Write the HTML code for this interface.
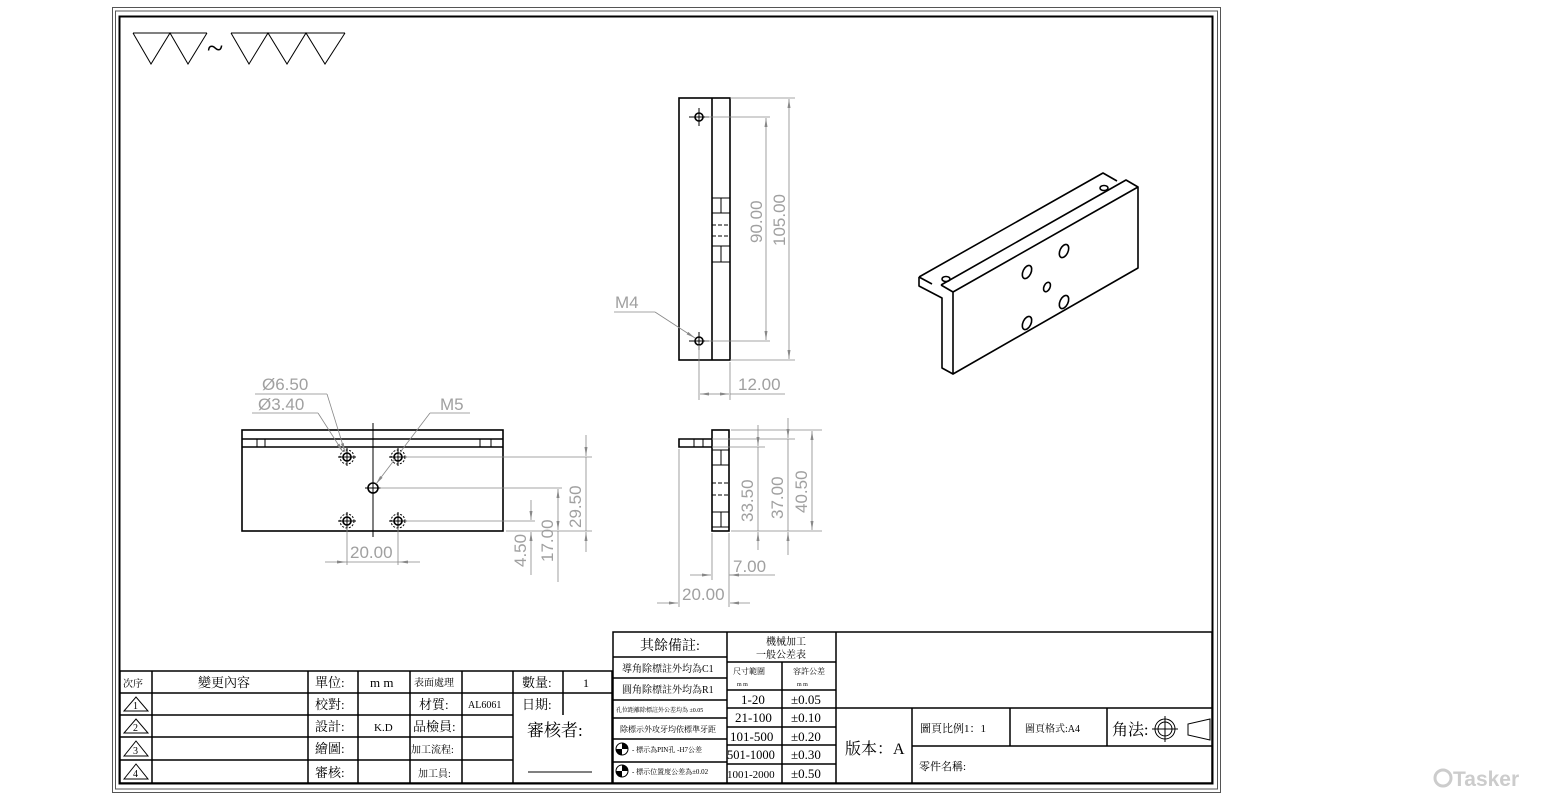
<!DOCTYPE html>
<html><head><meta charset="utf-8">
<style>
html,body{margin:0;padding:0;background:#fff;}
svg{display:block;}
.t{font-family:"Liberation Serif","Noto Serif CJK SC","Noto Sans CJK TC",serif;fill:#000;}
.c{font-family:"Liberation Sans","Noto Sans CJK TC",sans-serif;fill:#000;}
.d{font-family:"Liberation Sans",sans-serif;fill:#a0a0a0;font-size:17px;}
</style></head><body>
<svg width="1542" height="800" viewBox="0 0 1542 800" xmlns="http://www.w3.org/2000/svg">
<defs>
<marker id="a" markerWidth="10" markerHeight="6" refX="9" refY="3" orient="auto" markerUnits="userSpaceOnUse"><path d="M0,1.5 L9,3 L0,4.5 Z" fill="#888"/></marker>
</defs>
<rect x="112.5" y="7.5" width="1108" height="785" fill="none" stroke="#555" stroke-width="1"/>
<rect x="115.5" y="11" width="1102" height="778" fill="none" stroke="#555" stroke-width="1"/>
<rect x="119.5" y="16.5" width="1093" height="767" fill="none" stroke="#000" stroke-width="2"/>

<g fill="none" stroke="#000" stroke-width="1">
<path d="M133,33 L207,33 M133,33 L151,64 L170,33 L188,64 L207,33"/>
<path d="M231,33 L345,33 M231,33 L249,64 L268,33 L287,64 L306,33 L325,64 L345,33"/>
</g>
<text x="207" y="58" class="t" font-size="30">~</text>

<g fill="none" stroke="#000" stroke-width="1.6">
<rect x="679" y="98" width="51" height="262"/>
<line x1="712" y1="98" x2="712" y2="360"/>
<circle cx="699" cy="117" r="4"/><circle cx="699" cy="341" r="4"/>
</g>
<g fill="none" stroke="#000" stroke-width="1">
<line x1="689" y1="117" x2="709" y2="117"/><line x1="699" y1="108" x2="699" y2="126"/>
<line x1="689" y1="341" x2="709" y2="341"/><line x1="699" y1="332" x2="699" y2="350"/>
<path d="M712,198 H721 V213 H730 M721,198 H730 M712,213 H721"/>
<path d="M712,246 H721 V262 H730 M721,246 H730 M712,262 H721"/>
<path d="M712,225 H730 M712,236 H730" stroke-dasharray="4,2"/>
</g>
<g stroke="#888" stroke-width="0.8" fill="none">
<line x1="705" y1="117" x2="770" y2="117"/><line x1="705" y1="341" x2="770" y2="341"/>
<line x1="730" y1="98" x2="795" y2="98"/><line x1="730" y1="360" x2="795" y2="360"/>
<line x1="766" y1="230" x2="766" y2="118" marker-end="url(#a)"/><line x1="766" y1="230" x2="766" y2="340" marker-end="url(#a)"/>
<line x1="789" y1="230" x2="789" y2="99" marker-end="url(#a)"/><line x1="789" y1="230" x2="789" y2="359" marker-end="url(#a)"/>
<line x1="699" y1="345" x2="699" y2="400"/><line x1="730" y1="362" x2="730" y2="400"/>
<line x1="714" y1="394" x2="700" y2="394" marker-end="url(#a)"/><line x1="714" y1="394" x2="729" y2="394" marker-end="url(#a)"/>
<line x1="730" y1="394" x2="785" y2="394"/>
<line x1="614" y1="312" x2="655" y2="312"/><line x1="655" y1="312" x2="695" y2="338" marker-end="url(#a)"/>
</g>
<text class="d" transform="translate(762,243) rotate(-90)">90.00</text>
<text class="d" transform="translate(785,246) rotate(-90)">105.00</text>
<text class="d" x="738" y="390">12.00</text>
<text class="d" x="615" y="308">M4</text>

<g fill="none" stroke="#000" stroke-width="1.6">
<rect x="242" y="430" width="261" height="101"/>
<line x1="242" y1="439" x2="503" y2="439"/><line x1="242" y1="447" x2="503" y2="447"/>
<circle cx="347" cy="457" r="4"/><circle cx="398" cy="457" r="4"/>
<circle cx="347" cy="521" r="4"/><circle cx="398" cy="521" r="4"/>
<circle cx="373" cy="488" r="5"/>
</g>
<g fill="none" stroke="#000" stroke-width="1">
<path d="M257,439V447M265,439V447M480,439V447M491,439V447"/>
<line x1="373" y1="423" x2="373" y2="537"/><line x1="365" y1="488" x2="381" y2="488"/>
<g stroke-dasharray="2,1.5"><circle cx="347" cy="457" r="7"/><circle cx="398" cy="457" r="7"/><circle cx="347" cy="521" r="7"/><circle cx="398" cy="521" r="7"/></g>
<path d="M338,457H356M347,448V466M389,457H407M398,448V466M338,521H356M347,512V530M389,521H407M398,512V530"/>
</g>
<g stroke="#888" stroke-width="0.8" fill="none">
<line x1="255" y1="394" x2="327" y2="394"/><line x1="327" y1="394" x2="345" y2="452" marker-end="url(#a)"/>
<line x1="252" y1="413" x2="318" y2="413"/><line x1="318" y1="413" x2="343" y2="452" marker-end="url(#a)"/>
<line x1="430" y1="413" x2="470" y2="413"/><line x1="430" y1="413" x2="376" y2="484" marker-end="url(#a)"/>
<line x1="347" y1="528" x2="347" y2="565"/><line x1="398" y1="528" x2="398" y2="565"/>
<line x1="325" y1="562" x2="346" y2="562" marker-end="url(#a)"/><line x1="420" y1="562" x2="399" y2="562" marker-end="url(#a)"/>
<line x1="346" y1="562" x2="399" y2="562"/>
<line x1="405" y1="457" x2="592" y2="457"/><line x1="380" y1="488" x2="562" y2="488"/>
<line x1="405" y1="521" x2="535" y2="521"/><line x1="506" y1="531" x2="592" y2="531"/>
<line x1="586" y1="435" x2="586" y2="456" marker-end="url(#a)"/><line x1="586" y1="552" x2="586" y2="532" marker-end="url(#a)"/><line x1="586" y1="457" x2="586" y2="531"/>
<line x1="558" y1="510" x2="558" y2="489" marker-end="url(#a)"/><line x1="558" y1="510" x2="558" y2="530" marker-end="url(#a)"/><line x1="558" y1="531" x2="558" y2="582"/>
<line x1="531" y1="500" x2="531" y2="520" marker-end="url(#a)"/><line x1="531" y1="550" x2="531" y2="532" marker-end="url(#a)"/><line x1="531" y1="550" x2="531" y2="575"/>
</g>
<text class="d" x="262" y="390">Ø6.50</text>
<text class="d" x="258" y="410">Ø3.40</text>
<text class="d" x="440" y="410">M5</text>
<text class="d" x="350" y="558">20.00</text>
<text class="d" transform="translate(581,528) rotate(-90)">29.50</text>
<text class="d" transform="translate(553,562) rotate(-90)">17.00</text>
<text class="d" transform="translate(526,567) rotate(-90)">4.50</text>

<g fill="none" stroke="#000" stroke-width="1.6">
<rect x="712" y="430" width="17" height="101"/>
<path d="M712,439 H679 V447 H712"/>
</g>
<g fill="none" stroke="#000" stroke-width="1">
<path d="M694,439V447M703,439V447"/>
<path d="M729,450 H721 V465 H712 M721,450 H712 M729,465 H721"/>
<path d="M729,512 H721 V527 H712 M721,512 H712 M729,527 H721"/>
<path d="M712,483 H729 M712,495 H729" stroke-dasharray="4,2"/>
</g>
<g stroke="#888" stroke-width="0.8" fill="none">
<line x1="731" y1="430" x2="822" y2="430"/><line x1="712" y1="439" x2="795" y2="439"/><line x1="712" y1="447" x2="765" y2="447"/><line x1="731" y1="531" x2="822" y2="531"/>
<line x1="758" y1="425" x2="758" y2="446" marker-end="url(#a)"/><line x1="758" y1="550" x2="758" y2="532" marker-end="url(#a)"/><line x1="758" y1="447" x2="758" y2="531"/>
<line x1="788" y1="418" x2="788" y2="438" marker-end="url(#a)"/><line x1="788" y1="555" x2="788" y2="532" marker-end="url(#a)"/><line x1="788" y1="439" x2="788" y2="531"/>
<line x1="812" y1="480" x2="812" y2="431" marker-end="url(#a)"/><line x1="812" y1="480" x2="812" y2="530" marker-end="url(#a)"/>
<line x1="712" y1="533" x2="712" y2="580"/><line x1="729" y1="533" x2="729" y2="607"/><line x1="679" y1="449" x2="679" y2="607"/>
<line x1="690" y1="575" x2="711" y2="575" marker-end="url(#a)"/><line x1="750" y1="575" x2="730" y2="575" marker-end="url(#a)"/><line x1="729" y1="575" x2="775" y2="575"/>
<line x1="657" y1="603" x2="678" y2="603" marker-end="url(#a)"/><line x1="750" y1="603" x2="730" y2="603" marker-end="url(#a)"/>
</g>
<text class="d" transform="translate(753,522) rotate(-90)">33.50</text>
<text class="d" transform="translate(783,519) rotate(-90)">37.00</text>
<text class="d" transform="translate(807,513) rotate(-90)">40.50</text>
<text class="d" x="733" y="572">7.00</text>
<text class="d" x="682" y="600">20.00</text>

<g fill="none" stroke="#000" stroke-width="1.6" stroke-linejoin="round">
<path d="M919,277 L1103,173 L1117,181"/>
<path d="M919,277 L919,286 L942,298 L942,368 L953,374"/>
<path d="M919,277 L932,284"/>
<path d="M941,285 L1126,180 L1138,187"/>
<path d="M941,285 L953,292 L1138,187 L1138,268 L953,374 L953,292"/>
<ellipse cx="1027" cy="272" rx="4" ry="7" transform="rotate(25 1027 272)"/>
<ellipse cx="1064" cy="251" rx="4" ry="7" transform="rotate(25 1064 251)"/>
<ellipse cx="1047" cy="287" rx="3" ry="5" transform="rotate(25 1047 287)"/>
<ellipse cx="1064" cy="302" rx="4" ry="7" transform="rotate(25 1064 302)"/>
<ellipse cx="1027" cy="323" rx="4" ry="7" transform="rotate(25 1027 323)"/>
<ellipse cx="946" cy="279" rx="4" ry="2.5"/>
<ellipse cx="1104" cy="188" rx="4" ry="2.5"/>
</g>

<g fill="none" stroke="#000" stroke-width="1.5">
<rect x="120" y="671" width="492" height="112"/>
<path d="M120,693H612 M120,715H513 M120,737H513 M120,760H513"/>
<path d="M152,671V783 M308,671V783 M358,671V783 M410,671V783 M462,671V783 M513,671V783 M563,671V715"/>
<rect x="613" y="632" width="599" height="151"/>
<path d="M727,632V783 M782,662V783 M836,632V783"/>
<path d="M613,657H727 M613,678H727 M613,700H727 M613,718H727 M613,739H727 M613,762H727"/>
<path d="M727,662H836 M727,690H836 M727,708H836 M727,727H836 M727,745H836 M727,764H836"/>
<path d="M836,708H1212 M912,708V783 M912,746H1212 M1010,708V746 M1107,708V746"/>
</g>
<line x1="528" y1="772" x2="592" y2="772" stroke="#000" stroke-width="1"/>
<g class="t" font-size="12">
<text x="123" y="687" font-size="10">次序</text>
<text x="198" y="687" font-size="13">變更內容</text>
<text x="315" y="687" font-size="13">單位:</text>
<text x="370" y="687" font-size="13">m m</text>
<text x="414" y="686" font-size="10">表面處理</text>
<text x="522" y="687" font-size="13">數量:</text>
<text x="583" y="687">1</text>
<text x="315" y="709" font-size="13">校對:</text>
<text x="419" y="709" font-size="13">材質:</text>
<text x="468" y="708" font-size="10">AL6061</text>
<text x="522" y="709" font-size="13">日期:</text>
<text x="315" y="731" font-size="13">設計:</text>
<text x="374" y="731" font-size="11">K.D</text>
<text x="413" y="731" font-size="13">品檢員:</text>
<text x="527" y="736" font-size="17">審核者:</text>
<text x="315" y="753" font-size="13">繪圖:</text>
<text x="411" y="753" font-size="10">加工流程:</text>
<text x="315" y="777" font-size="13">審核:</text>
<text x="418" y="777" font-size="10">加工員:</text>
<text x="640" y="650" font-size="14">其餘備註:</text>
<text x="622" y="672" font-size="10">導角除標註外均為C1</text>
<text x="622" y="693" font-size="10">圓角除標註外均為R1</text>
<text x="616" y="712" font-size="6">孔位距離除標註外公差均為 ±0.05</text>
<text x="620" y="732" font-size="8">除標示外攻牙均依標準牙距</text>
<text x="632" y="752" font-size="7">- 標示為PIN孔 -H7公差</text>
<text x="632" y="774" font-size="7">- 標示位置度公差為±0.02</text>
<text x="766" y="645" font-size="10">機械加工</text>
<text x="756" y="658" font-size="10">一般公差表</text>
<text x="733" y="674" font-size="8">尺寸範圍</text>
<text x="793" y="674" font-size="8">容許公差</text>
<text x="737" y="686" font-size="6">m m</text>
<text x="797" y="686" font-size="6">m m</text>
<g font-size="13">
<text x="741" y="704">1-20</text><text x="791" y="704">±0.05</text>
<text x="735" y="722">21-100</text><text x="791" y="722">±0.10</text>
<text x="730" y="741">101-500</text><text x="791" y="741">±0.20</text>
<text x="727" y="759" font-size="12.5">501-1000</text><text x="791" y="759">±0.30</text>
<text x="727" y="778" font-size="11">1001-2000</text><text x="791" y="778">±0.50</text>
</g>
<text x="845" y="754" font-size="16">版本：A</text>
<text x="920" y="732" font-size="11">圖頁比例1：1</text>
<text x="1025" y="732" font-size="10">圖頁格式:A4</text>
<text x="1112" y="735" font-size="16">角法:</text>
<text x="919" y="770" font-size="11">零件名稱:</text>
</g>
<g>
<circle cx="622" cy="749" r="6" fill="#fff" stroke="#000"/><path d="M622,743 A6,6 0 0 1 628,749 L622,749Z M622,755 A6,6 0 0 1 616,749 L622,749Z" fill="#000"/>
<circle cx="622" cy="771" r="6" fill="#fff" stroke="#000"/><path d="M622,765 A6,6 0 0 1 628,771 L622,771Z M622,777 A6,6 0 0 1 616,771 L622,771Z" fill="#000"/>
</g>
<g fill="none" stroke="#000" stroke-width="1">
<circle cx="1165" cy="729" r="10"/><circle cx="1165" cy="729" r="7"/>
<path d="M1152,729H1178 M1165,716V742"/>
<path d="M1210,719 L1188,724 L1188,735 L1210,740 Z"/>
<path d="M124,711 L136,697 L148,711 Z M124,733 L136,719 L148,733 Z M124,756 L136,741 L148,756 Z M124,779 L136,764 L148,779 Z"/>
</g>
<g class="t" font-size="10">
<text x="133" y="709">1</text><text x="133" y="731">2</text><text x="133" y="754">3</text><text x="133" y="777">4</text>
</g>

<circle cx="1443" cy="778" r="8" fill="none" stroke="#ccc" stroke-width="3"/>
<text x="1453" y="786" font-family="Liberation Sans, sans-serif" font-weight="bold" font-size="21" fill="#ccc">Tasker</text>
</svg>
</body></html>
